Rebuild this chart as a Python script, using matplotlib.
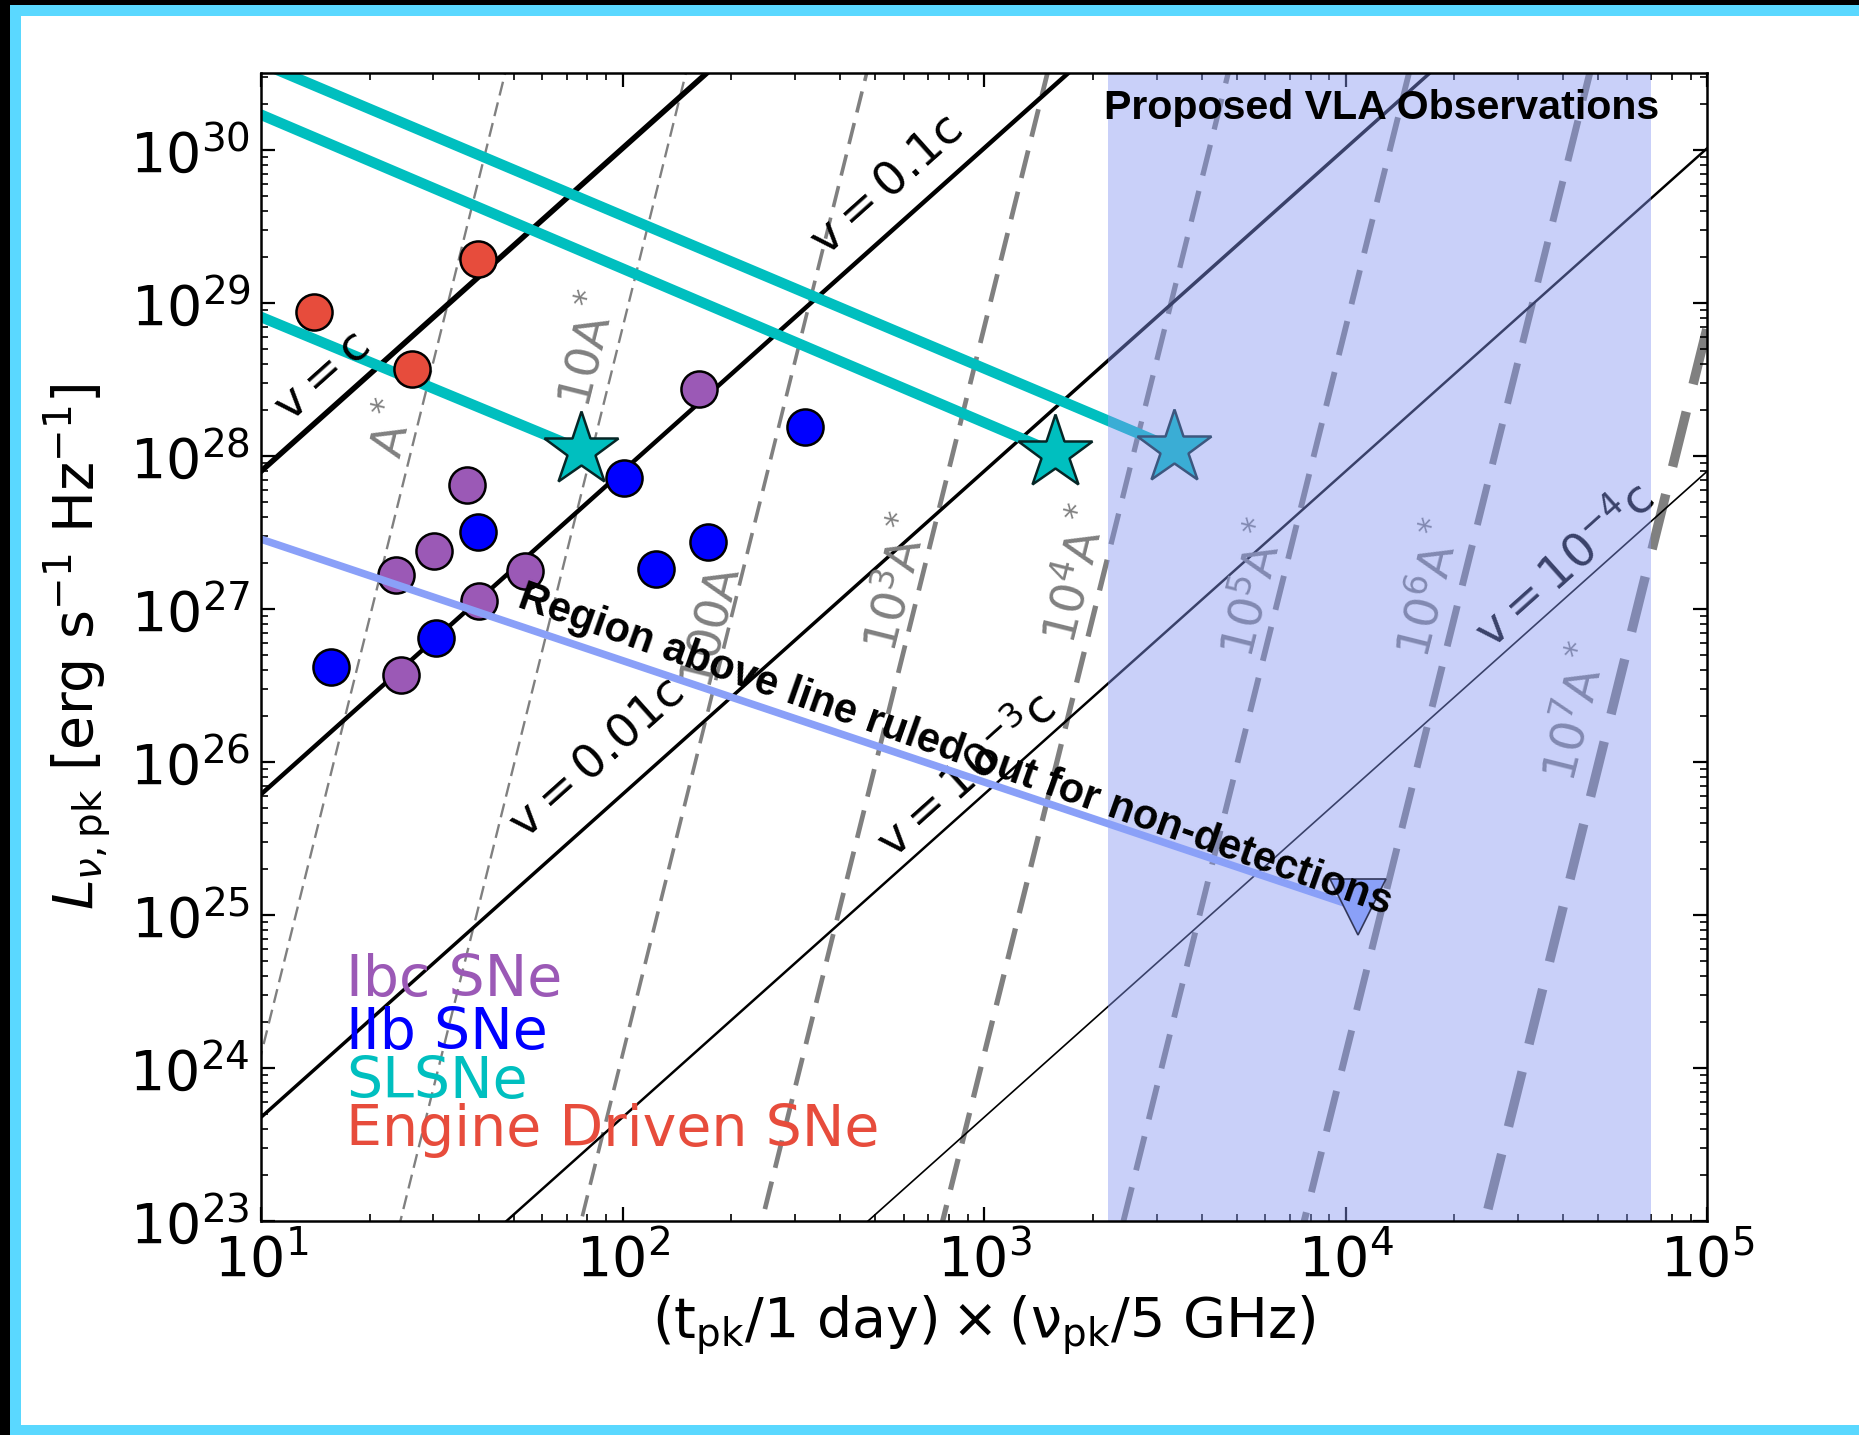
import numpy as np
import matplotlib
matplotlib.use("Agg")
import matplotlib.pyplot as plt
from matplotlib.patches import Rectangle

# ---- data ----
# supernova samples: x = (t_pk/1 day)*(nu_pk/5 GHz), L = peak luminosity
ibc_x = [163, 37.2, 30.1, 23.7, 53.8, 40.1, 24.4]
ibc_L = [2.75e28, 6.5e27, 2.4e27, 1.66e27, 1.78e27, 1.12e27, 3.7e26]

iib_x = [320, 100.7, 39.8, 172, 124, 30.5, 15.6]
iib_L = [1.55e28, 7.2e27, 3.2e27, 2.76e27, 1.82e27, 6.5e26, 4.2e26]

eng_x = [14.0, 39.8, 26.1]
eng_L = [8.7e28, 1.95e29, 3.7e28]

slsn_x = [76.8, 1574, 3350]
slsn_L = [1.1e28, 1.05e28, 1.12e28]
# start of the cyan tracks at the left edge
slsn_track_x0 = [10, 10, 10]
slsn_track_L0 = [8.1e28, 1.7e30, 3.7e30]

# non-detection limit
nondet_x = [10, 1.08e4]
nondet_L = [2.86e27, 1.12e25]

# constant velocity lines (L at x=10 for v=c, slope 19/9)
vel_frac = [1, 0.1, 0.01, 1e-3, 1e-4]
vel_lw = [2.0, 1.6, 1.25, 0.9, 0.6]
vel_L10_c = 10 ** 27.90
vel_labels = [r'$\mathrm{v=c}$', r'$\mathrm{v=0.1c}$', r'$\mathrm{v=0.01c}$',
              r'$\mathrm{v=10^{-3}c}$', r'$\mathrm{v=10^{-4}c}$']
vel_lab_x = [14.8, 538, 84.7, 893, 4.05e4]
vel_lab_L = [3.3e28, 5.8e29, 1.05e26, 8.1e25, 1.9e27]

# constant density (A*) lines: log x = 0.5 log(mult) + (2/19) log L + const
astar_mult = [1, 10, 100, 1e3, 1e4, 1e5, 1e6, 1e7]
astar_lw = [0.85, 0.85, 1.3, 1.7, 1.9, 2.1, 2.5, 3.4]
astar_const = -1.5355
astar_labels = [r'$\mathrm{A^*}$', r'$\mathrm{10A^*}$', r'$\mathrm{100A^*}$',
                r'$\mathrm{10^3A^*}$', r'$\mathrm{10^4A^*}$', r'$\mathrm{10^5A^*}$',
                r'$\mathrm{10^6A^*}$', r'$\mathrm{10^7A^*}$']
astar_lab_x = [23.4, 80.9, 180, 577, 1803, 5600, 1.72e4, 4.36e4]
astar_lab_L = [1.5e28, 4.9e28, 8.9e26, 1.48e27, 1.66e27, 1.35e27, 1.35e27, 2.1e26]

# proposed VLA window
vla_x = [2.2e3, 7.0e4]

legend_names = ['Ibc SNe', 'IIb SNe', 'SLSNe', 'Engine Driven SNe']
legend_colors = ['#9b59b6', '#0000ff', '#00bfbf', '#e74c3c']

# ---- figure ----
W, H = 1859, 1435
fig = plt.figure(figsize=(W / 200, H / 200), dpi=200)
fig.patch.set_facecolor('black')
fig.patches.append(Rectangle((10 / W, 0), 1, (H - 5) / H, transform=fig.transFigure,
                             facecolor='#5ad8ff', edgecolor='none', zorder=-3))
fig.patches.append(Rectangle((21 / W, 10 / H), 1, (H - 26) / H, transform=fig.transFigure,
                             facecolor='white', edgecolor='none', zorder=-2))

ax = fig.add_axes([0.1404, 0.1491, 0.7779, 0.7997])
ax.set_xscale('log')
ax.set_yscale('log')
xmin, xmax = 10, 1e5
ymin, ymax = 1e23, 10 ** 30.5

xx = np.logspace(0.5, 5.5, 200)
for v, lw in zip(vel_frac, vel_lw):
    ax.plot(xx, vel_L10_c * (xx / 10 * v) ** (19 / 9), color='black', lw=lw, zorder=2)

LL = np.logspace(22, 31, 200)
for m, lw in zip(astar_mult, astar_lw):
    xa = 10 ** (0.5 * np.log10(m) + (2 / 19) * np.log10(LL) + astar_const)
    ax.plot(xa, LL, color='grey', lw=lw, ls=(0, (6, 3)), zorder=1)

for lab, x, y in zip(vel_labels, vel_lab_x, vel_lab_L):
    ax.text(x, y, lab, fontsize=17, rotation=41.8, ha='center', va='center',
            rotation_mode='anchor', zorder=3)
for lab, x, y in zip(astar_labels, astar_lab_x, astar_lab_L):
    ax.text(x, y, lab, fontsize=17, rotation=76, ha='center', va='center', color='grey',
            rotation_mode='anchor', zorder=3)

for x0, L0, x1, L1 in zip(slsn_track_x0, slsn_track_L0, slsn_x, slsn_L):
    ax.plot([x0, x1], [L0, L1], color='c', lw=3.8, zorder=2.5)

ax.plot(eng_x, eng_L, 'o', color='#e74c3c', ms=13, mec='black', mew=0.9, ls='none', zorder=3)
ax.plot(ibc_x, ibc_L, 'o', color='#9b59b6', ms=13, mec='black', mew=0.9, ls='none', zorder=3)
ax.plot(iib_x, iib_L, 'o', color='#0000ff', ms=13, mec='black', mew=0.9, ls='none', zorder=3)
ax.plot(slsn_x, slsn_L, '*', color='c', ms=28, mec='#062626', mew=0.9, ls='none', zorder=3)

ax.axvspan(vla_x[0], vla_x[1], facecolor=(0.52, 0.59, 0.95), alpha=0.44,
           edgecolor='none', zorder=4)

ax.plot(nondet_x, nondet_L, color='#8aa0f8', lw=2.7, zorder=6)
ax.plot(nondet_x[1], nondet_L[1], 'v', color='#8aa0f8', ms=20, mec='#33385a', mew=0.6, zorder=7)

ax.text(834, 1.2e26, 'Region above line ruled out for non-detections', fontsize=15,
        fontweight='bold', family='Liberation Sans', rotation=-19.5, ha='center', va='center',
        rotation_mode='anchor', zorder=8)
ax.text(0.775, 0.970, 'Proposed VLA Observations', transform=ax.transAxes, fontsize=14.8,
        fontweight='bold', family='Liberation Sans', ha='center', va='center', zorder=8)

leg_y = [0.196, 0.150, 0.1072, 0.0654]
for name, col, y in zip(legend_names, legend_colors, leg_y):
    ax.text(0.0588, y, name, transform=ax.transAxes, color=col, fontsize=20.5,
            va='baseline', ha='left', zorder=8)

ax.set_xlim(xmin, xmax)
ax.set_ylim(ymin, ymax)
ax.tick_params(which='both', direction='in', top=True, right=True, labelsize=20, pad=4)
ax.tick_params(which='major', length=5, width=0.8)
ax.tick_params(which='minor', length=2.5, width=0.6)
for s in ax.spines.values():
    s.set_linewidth(0.9)
    s.set_zorder(9)

ax.set_xlabel(r'$\mathrm{(t_{pk}/1\ day)\times(\nu_{pk}/5\ GHz)}$', fontsize=20, labelpad=2)
ax.set_ylabel(r'$L_{\nu,\mathrm{pk}}\ [\mathrm{erg\ s^{-1}\ Hz^{-1}}]$', fontsize=20, labelpad=6)

fig.savefig('out.png', dpi=200, facecolor=fig.get_facecolor())
